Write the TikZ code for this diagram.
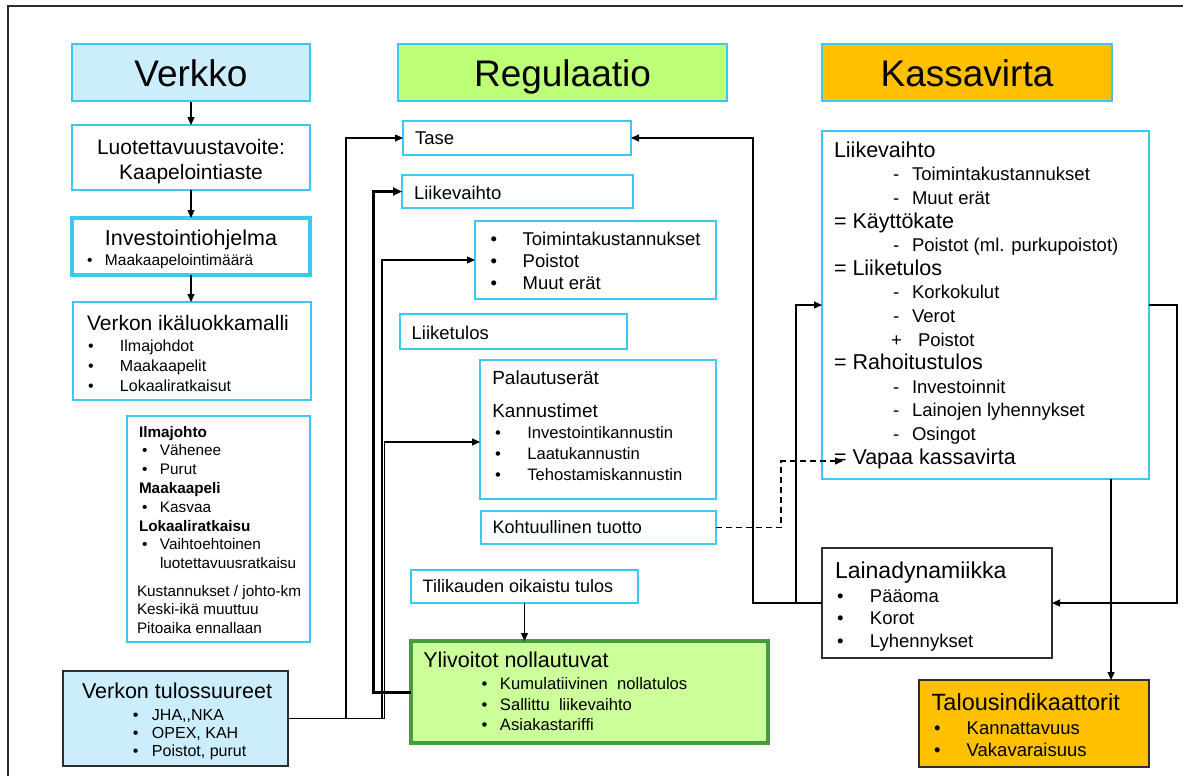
\documentclass[tikz,border=0pt]{standalone}
\usepackage{fontspec}
\setmainfont{Liberation Sans}
\usetikzlibrary{arrows.meta}
\definecolor{cyb}{RGB}{60,200,240}
\definecolor{lblue}{RGB}{204,238,252}
\definecolor{lime}{RGB}{190,255,120}
\definecolor{lgreen}{RGB}{204,255,153}
\definecolor{dgreen}{RGB}{70,155,60}
\definecolor{orng}{RGB}{255,192,0}
\definecolor{dk}{RGB}{45,45,45}
\newcommand\myfs[2]{\fontsize{#1pt}{#2pt}\selectfont}
\newcommand\hsk[1]{\hspace*{#1pt}}
\newcommand\bul[2]{\hspace*{#1pt}\makebox[#2pt][l]{•}}
\newcommand\sbi[3]{\hspace*{#1pt}\makebox[#2pt][l]{#3}}
\newcommand\mybox[7]{\node[#2, anchor=north west, inner sep=0pt, outer sep=0pt] (#1) at (#3,#4) {\begin{minipage}[c][#6pt][t]{#5pt}#7\end{minipage}};}
\tikzset{
  cbox/.style={draw=cyb, line width=1.8pt, fill=white},
  kbox/.style={draw=dk, line width=1.4pt},
  ttl/.style={draw=cyb, line width=1.8pt, minimum height=57pt, inner sep=0pt, font={\myfs{37}{40}}, text height=28pt, text depth=0pt},
  ln/.style={line width=1.2pt, draw=black},
  con/.style={ln, -{Triangle[length=8pt,width=7pt]}},
  thk/.style={line width=3pt, draw=black, -{Triangle[length=9pt,width=8pt]}},
}
\begin{document}
\begin{tikzpicture}[x=1pt, y=-1pt]
\useasboundingbox (0,0) rectangle (1183,776);
\draw[line width=1.6pt, draw=dk] (1190,6) -- (8,6) -- (8,790);

% ---------- left column ----------
\node[ttl, fill=lblue, minimum width=238pt] (verkko) at (191,72.5) {Verkko};
\mybox{luot}{cbox}{72}{125}{238}{65}{\myfs{21}{25}\centering\rule{0pt}{29pt}Luotettavuustavoite:\\Kaapelointiaste}
\mybox{invest}{cbox, line width=3.5pt}{72}{218}{238}{57}{\myfs{15.5}{20}\rule{0pt}{27pt}\makebox[238pt]{\myfs{21.5}{25}Investointiohjelma}\\
\bul{15}{18}Maakaapelointimäärä}
\mybox{ika}{cbox}{73}{302}{238}{98}{\myfs{16}{19.7}\rule{0pt}{28pt}\hsk{14}{\myfs{21}{25}Verkon ikäluokkamalli}\\[2pt]
\bul{15}{32}Ilmajohdot\\
\bul{15}{32}Maakaapelit\\
\bul{15}{32}Lokaaliratkaisut}
\mybox{ilma}{cbox}{127}{416}{183}{226}{\myfs{15.3}{18.8}\rule{0pt}{21pt}\hsk{12}\textbf{Ilmajohto}\\
\bul{15}{18}Vähenee\\
\bul{15}{18}Purut\\
\hsk{12}\textbf{Maakaapeli}\\
\bul{15}{18}Kasvaa\\
\hsk{12}\textbf{Lokaaliratkaisu}\\
\bul{15}{18}Vaihtoehtoinen\\
\hsk{33}luotettavuusratkaisu\\[8.6pt]
\hsk{10}Kustannukset / johto-km\\
\hsk{10}Keski-ikä muuttuu\\
\hsk{10}Pitoaika ennallaan}
\mybox{tulos}{kbox, fill=lblue}{63}{671}{225}{95}{\myfs{16}{18.4}\rule{0pt}{27.3pt}\hsk{19}{\myfs{21.5}{25}Verkon tulossuureet}\\[3.3pt]
\bul{70}{19}JHA,{},NKA\\
\bul{70}{19}OPEX, KAH\\
\bul{70}{19}Poistot, purut}

% ---------- middle column ----------
\node[ttl, fill=lime, minimum width=329pt] (reg) at (562.5,72.5) {Regulaatio};
\mybox{tase}{cbox}{403}{121}{228}{34}{\myfs{18.5}{22}\rule{0pt}{23.3pt}\hsk{12}Tase}
\mybox{liike}{cbox}{402}{175}{231}{33}{\myfs{18.5}{22}\rule{0pt}{24pt}\hsk{12}Liikevaihto}
\mybox{toim}{cbox}{475}{221}{241}{78}{\myfs{18.5}{21.7}\rule{0pt}{24.7pt}\bul{15.7}{32}Toimintakustannukset\\
\bul{15.7}{32}Poistot\\
\bul{15.7}{32}Muut erät}
\mybox{liiketulos}{cbox}{400}{314}{227}{35}{\myfs{18.5}{22}\rule{0pt}{25.3pt}\hsk{11.7}Liiketulos}
\mybox{palaut}{cbox}{480}{360}{236}{139}{\myfs{16.6}{21}\rule{0pt}{24pt}\hsk{12.3}{\myfs{19}{22}Palautuserät}\\[12.3pt]
\hsk{12.3}{\myfs{19}{22}Kannustimet}\\
\bul{15}{32.3}Investointikannustin\\
\bul{15}{32.3}Laatukannustin\\
\bul{15}{32.3}Tehostamiskannustin}
\mybox{kohtu}{cbox}{481}{511}{235}{33}{\myfs{18}{22}\rule{0pt}{22.3pt}\hsk{11.7}Kohtuullinen tuotto}
\mybox{tili}{cbox}{411}{570}{227}{33}{\myfs{18}{22}\rule{0pt}{22.7pt}\hsk{11.7}Tilikauden oikaistu tulos}
\mybox{ylivoit}{fill=lgreen, draw=dgreen, line width=3.5pt}{411}{641}{357}{102}{\myfs{16.6}{20.8}\rule{0pt}{26.3pt}\hsk{12.3}{\myfs{21.5}{25}Ylivoitot nollautuvat}\\[1.2pt]
\bul{70.7}{18.3}Kumulatiivinen~ nollatulos\\
\bul{70.7}{18.3}Sallittu~ liikevaihto\\
\bul{70.7}{18.3}Asiakastariffi}

% ---------- right column ----------
\node[ttl, fill=orng, minimum width=290pt] (kassa) at (967,72.5) {Kassavirta};
\mybox{cash}{cbox}{822}{131}{327}{348}{\myfs{18.5}{23.6}\rule{0pt}{26.3pt}\hsk{12}{\myfs{21.5}{25}Liikevaihto}\\
\sbi{71}{19}{-}Toimintakustannukset\\
\sbi{71}{19}{-}Muut erät\\
\hsk{12}{\myfs{21.5}{25}= Käyttökate}\\
\sbi{71}{19}{-}Poistot (ml. purkupoistot)\\
\hsk{12}{\myfs{21.5}{25}= Liiketulos}\\
\sbi{71}{19}{-}Korkokulut\\
\sbi{71}{19}{-}Verot\\
\sbi{69}{27}{+}Poistot\\
\hsk{12}{\myfs{21.5}{25}= Rahoitustulos}\\
\sbi{71}{19}{-}Investoinnit\\
\sbi{71}{19}{-}Lainojen lyhennykset\\
\sbi{71}{19}{-}Osingot\\
\hsk{12}{\myfs{21.5}{25}= Vapaa kassavirta}}
\mybox{laina}{kbox, fill=white}{822}{548}{230}{110}{\myfs{18.5}{22.3}\rule{0pt}{30.3pt}\hsk{13}{\myfs{23}{26}Lainadynamiikka}\\[2pt]
\bul{15}{33}Pääoma\\
\bul{15}{33}Korot\\
\bul{15}{33}Lyhennykset}
\mybox{talous}{kbox, fill=orng}{919}{680}{230}{87}{\myfs{18.5}{22.7}\rule{0pt}{30pt}\hsk{12.7}{\myfs{23.5}{26}Talousindikaattorit}\\[1.3pt]
\bul{15}{32.7}Kannattavuus\\
\bul{15}{32.7}Vakavaraisuus}

% ---------- junction coordinates ----------
\coordinate (j1) at (346,718.5);
\coordinate (j2) at (382,718.5);
\coordinate (j3) at (384.5,718.5);
\coordinate (j4) at (373,692);
\coordinate (j5) at (753,603);
\coordinate (j6) at (796,603);
\coordinate (j7) at (1177,305);
\coordinate (j8) at (1111,479);
\coordinate (j9) at (781,527.5);
\coordinate (vk) at (843,461);

% ---------- connectors ----------
\draw[con] (verkko.south) -- (luot.north);
\draw[con] (luot.south) -- (invest.north);
\draw[con] (invest.south) -- (invest.south |- ika.north);

\draw[ln] (tulos.east) -- (j3);
\draw[con] (j1) |- (tase.west);
\draw[con] (j2) |- (toim.west);
\draw[con] (j3) |- ([yshift=-12.5pt]palaut.west);
\draw[thk] (ylivoit.west) -- (j4) |- (liike.west);
\draw[con] (tili.south) -- (tili.south |- ylivoit.north);

\draw[con] (laina.west) -- (j5) |- (tase.east);
\draw[con] (j6) |- (cash.west);
\draw[con] (cash.east) -- (j7) |- (laina.east);
\draw[con] (j8) -- (j8 |- talous.north);
\draw[con, dash pattern=on 6pt off 4pt] (kohtu.east) -- (j9) |- (vk);
\end{tikzpicture}
\end{document}
